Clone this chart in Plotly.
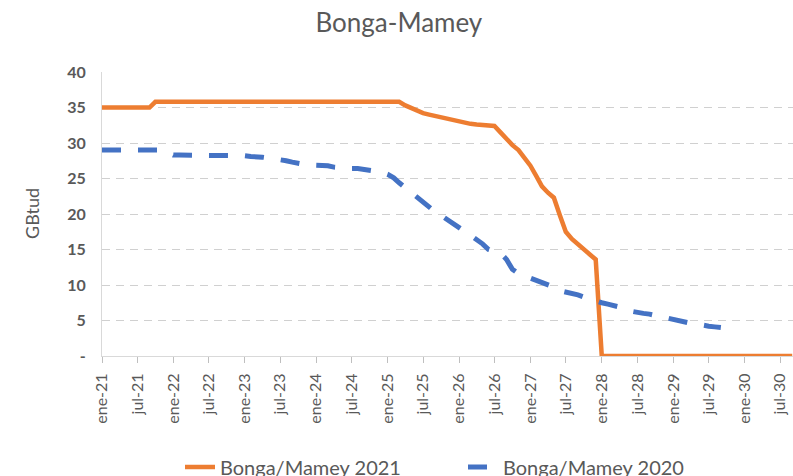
import pandas as pd
import plotly.graph_objects as go

# ---- data (monthly, starting ene-21) ----
start_month = "2021-01-01"

bonga_2021 = [
    35.0, 35.0, 35.0, 35.0, 35.0, 35.0, 35.0, 35.0, 35.0, 35.8, 35.8, 35.8,   # 2021
    35.8, 35.8, 35.8, 35.8, 35.8, 35.8, 35.8, 35.8, 35.8, 35.8, 35.8, 35.8,   # 2022
    35.8, 35.8, 35.8, 35.8, 35.8, 35.8, 35.8, 35.8, 35.8, 35.8, 35.8, 35.8,   # 2023
    35.8, 35.8, 35.8, 35.8, 35.8, 35.8, 35.8, 35.8, 35.8, 35.8, 35.8, 35.8,   # 2024
    35.8, 35.8, 35.8, 35.3, 34.9, 34.5, 34.2, 34.0, 33.8, 33.6, 33.4, 33.2,   # 2025
    33.0, 32.9, 32.7, 32.6, 32.5, 32.4, 32.4, 31.5, 30.5, 29.7, 29.0, 28.0,   # 2026
    26.8, 25.3, 23.9, 23.0, 22.3, 19.8, 17.5, 16.5, 15.7, 15.0, 14.3, 13.6,   # 2027
    0.0, 0.0, 0.0, 0.0, 0.0, 0.0, 0.0, 0.0, 0.0, 0.0, 0.0, 0.0,               # 2028
    0.0, 0.0, 0.0, 0.0, 0.0, 0.0, 0.0, 0.0, 0.0, 0.0, 0.0, 0.0,               # 2029
    0.0, 0.0, 0.0, 0.0, 0.0, 0.0, 0.0, 0.0, 0.0,                              # 2030
]

bonga_2020 = [
    29.0, 29.0, 29.0, 29.0, 29.0, 29.0, 29.0, 29.0, 29.0, 29.0, 29.0, 28.7,   # 2021
    28.3, 28.3, 28.3, 28.3, 28.3, 28.3, 28.3, 28.3, 28.3, 28.3, 28.3, 28.3,   # 2022
    28.2, 28.1, 28.1, 28.0, 27.9, 27.8, 27.6, 27.5, 27.3, 27.1, 27.0, 26.9,   # 2023
    26.9, 26.8, 26.8, 26.6, 26.5, 26.4, 26.4, 26.4, 26.3, 26.2, 26.1, 25.9,   # 2024
    25.6, 25.1, 24.4, 23.7, 23.0, 22.3, 21.6, 21.0, 20.3, 19.8, 19.2, 18.5,   # 2025
    18.0, 17.5, 17.0, 16.4, 15.8, 15.0, 14.7, 14.5, 13.6, 12.2, 11.6, 11.3,   # 2026
    11.0, 10.7, 10.4, 10.1, 9.7, 9.2, 9.0, 8.9, 8.6, 8.3, 8.0, 7.8,           # 2027
    7.5, 7.3, 7.1, 6.9, 6.7, 6.3, 6.1, 6.0, 5.9, 5.7, 5.6, 5.4,               # 2028
    5.2, 5.0, 4.8, 4.6, 4.5, 4.3, 4.2, 4.1, 4.0,                              # 2029
]

x_tick_dates = ["2021-01-01", "2021-07-01", "2022-01-01", "2022-07-01", "2023-01-01",
                "2023-07-01", "2024-01-01", "2024-07-01", "2025-01-01", "2025-07-01",
                "2026-01-01", "2026-07-01", "2027-01-01", "2027-07-01", "2028-01-01",
                "2028-07-01", "2029-01-01", "2029-07-01", "2030-01-01", "2030-07-01"]
x_tick_labels = ["ene-21", "jul-21", "ene-22", "jul-22", "ene-23", "jul-23", "ene-24",
                 "jul-24", "ene-25", "jul-25", "ene-26", "jul-26", "ene-27", "jul-27",
                 "ene-28", "jul-28", "ene-29", "jul-29", "ene-30", "jul-30"]
y_tick_vals = [0, 5, 10, 15, 20, 25, 30, 35, 40]
y_tick_labels = ["-", "5", "10", "15", "20", "25", "30", "35", "40"]

dates_2021 = pd.date_range(start_month, periods=len(bonga_2021), freq="MS")
dates_2020 = pd.date_range(start_month, periods=len(bonga_2020), freq="MS")

FONT = "Lato"
GREY = "#595959"

fig = go.Figure()
fig.add_trace(go.Scatter(
    x=dates_2021, y=bonga_2021, mode="lines", name="Bonga/Mamey 2021",
    line=dict(color="#ED7D31", width=4.5),
))
fig.add_trace(go.Scatter(
    x=dates_2020, y=bonga_2020, mode="lines", name="Bonga/Mamey 2020",
    line=dict(color="#4472C4", width=5, dash="19px,17px"),
))

fig.update_layout(
    width=793, height=476,
    margin=dict(l=102, r=0, t=72, b=120, autoexpand=False),
    paper_bgcolor="white", plot_bgcolor="white",
    font=dict(family=FONT, color=GREY),
    title=dict(text="Bonga-Mamey", x=0.503, xanchor="center", xref="container",
               y=1 - 23 / 476, yref="container", yanchor="middle",
               font=dict(size=26, color=GREY, family=FONT)),
    showlegend=True,
    legend=dict(orientation="h", x=(180 - 102) / 691, xanchor="left",
                y=-0.322, yanchor="top",
                entrywidth=238, entrywidthmode="pixels",
                font=dict(size=20, color=GREY, family=FONT), traceorder="normal"),
)
fig.update_xaxes(
    type="date", range=["2021-01-01", "2030-09-05"],
    tickvals=x_tick_dates, ticktext=x_tick_labels, tickangle=-90,
    tickfont=dict(size=16, color=GREY, family=FONT),
    ticks="outside", ticklen=6, tickcolor="#BFBFBF", tickwidth=1,
    ticklabelstandoff=4,
    showline=True, linecolor="#D9D9D9", linewidth=1,
    showgrid=False, zeroline=False, automargin=False,
)
fig.update_yaxes(
    range=[0, 40], tickvals=y_tick_vals, ticktext=y_tick_labels,
    tickfont=dict(size=16, color=GREY, family=FONT, weight="bold"),
    ticks="", ticklabelstandoff=12,
    showline=True, linecolor="#D9D9D9", linewidth=1,
    showgrid=True, gridcolor="#D0D0D0", gridwidth=1, griddash="8px,6px",
    zeroline=False, automargin=False,
)
fig.add_annotation(
    text="GBtud", xref="paper", yref="paper", x=(32 - 102) / 691, y=0.5,
    xanchor="center", yanchor="middle", textangle=-90, showarrow=False,
    font=dict(size=18, color=GREY, family=FONT),
)

fig.write_html("out.html", config={"displayModeBar": False},
               post_script="document.body.style.margin='0';document.body.style.overflow='hidden';")
